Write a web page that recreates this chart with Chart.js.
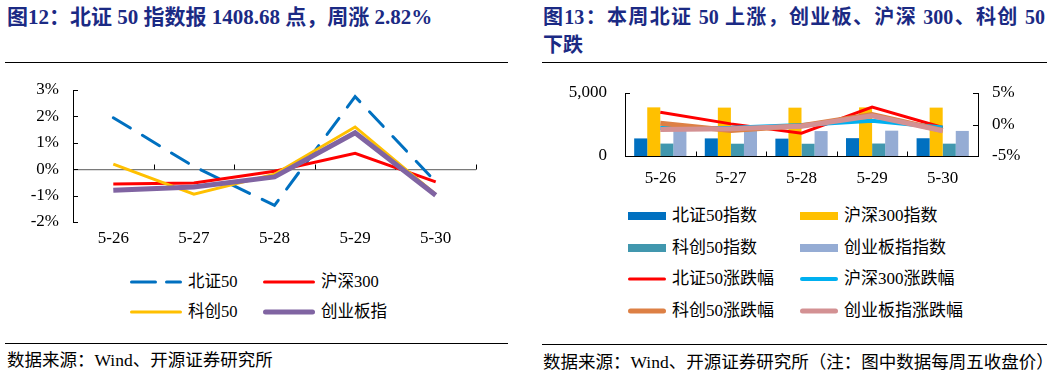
<!DOCTYPE html>
<html>
<head>
<meta charset="utf-8">
<script src="https://cdn.jsdelivr.net/npm/chart.js@4.4.0/dist/chart.umd.min.js"></script>
<style>
body{margin:0;width:1057px;height:374px;background:#fff;position:relative;overflow:hidden;font-family:"Liberation Serif","Noto Sans CJK SC",serif;color:#000;}
.title{position:absolute;font-weight:bold;color:#1b2a84;font-size:20px;line-height:28px;white-space:nowrap;}
.rule{position:absolute;height:0;border-top:1px solid #000;}
.src{position:absolute;font-size:17.5px;line-height:20px;white-space:nowrap;}
.box{position:absolute;}
.leg{position:absolute;display:flex;align-items:center;white-space:nowrap;line-height:20px;}
.leg svg{margin-right:6px;}
</style>
</head>
<body>
<div class="title" style="left:7px;top:3px;font-size:21px;">图12：北证 50 指数报 1408.68 点，周涨 2.82%</div>
<div class="rule" style="left:5px;top:62px;width:503px;"></div>
<canvas id="c1" class="box" style="left:0;top:77px;" width="520" height="173"></canvas>
<div id="leg1"></div>
<div class="rule" style="left:5px;top:343px;width:503px;"></div>
<div class="src" style="left:7px;top:350px;">数据来源：Wind、开源证券研究所</div>

<div class="title" style="left:543px;top:3px;width:502px;">
  <div style="text-align:justify;text-align-last:justify;">图13：本周北证 50 上涨，创业板、沪深 300、科创 50</div>
  <div>下跌</div>
</div>
<div class="rule" style="left:542px;top:62px;width:505px;"></div>
<canvas id="c2" class="box" style="left:530px;top:80px;" width="520" height="115"></canvas>
<div id="leg2"></div>
<div class="rule" style="left:542px;top:344px;width:505px;"></div>
<div class="src" style="left:543px;top:352px;">数据来源：Wind、开源证券研究所（注：图中数据每周五收盘价）</div>

<script>
// 数据
const days = ['5-26', '5-27', '5-28', '5-29', '5-30'];
// 涨跌幅 (%)
const bz50Chg = [1.95, 0.10, -1.37, 2.75, -0.48];
const hs300Chg = [-0.56, -0.52, -0.08, 0.60, -0.48];
const kc50Chg = [0.19, -0.95, -0.19, 1.60, -0.95];
const cybChg = [-0.80, -0.67, -0.29, 1.38, -0.99];
// 收盘点位
const bz50Idx = [1395, 1397, 1378, 1416, 1409];
const hs300Idx = [3860, 3840, 3836, 3858, 3840];
const kc50Idx = [985, 975, 972, 990, 980];
const cybIdx = [1995, 1985, 1978, 2010, 1990];
// 坐标轴范围
const pctRangeLeft = [-2, 3];
const idxRange = [0, 5000];
const pctRangeRight = [-5, 5];

Chart.defaults.font.family = '"Liberation Serif", "Noto Sans CJK SC", serif';
Chart.defaults.color = '#000';

// 刻度线（朝内）
const axisMarks = {
    id: 'axisMarks',
    beforeDatasetsDraw(chart, args, opts) {
        const ctx = chart.ctx;
        const area = chart.chartArea;
        const x = chart.scales.x;
        const yb = Math.round(chart.scales[opts.baseAxis].getPixelForValue(opts.baseValue)) + 0.5;
        ctx.save();
        ctx.strokeStyle = '#000';
        ctx.lineWidth = 1;
        ctx.beginPath();
        const n = x.ticks.length;
        for (let i = 0; i < n; i++) {
            let xp = i < n - 1 ? (x.getPixelForValue(i) + x.getPixelForValue(i + 1)) / 2 : area.right;
            xp = Math.round(xp) + 0.5;
            ctx.moveTo(xp, yb);
            ctx.lineTo(xp, yb - 5);
        }
        opts.yAxes.forEach(id => {
            const s = chart.scales[id];
            const x0 = s.position === 'left' ? area.left : area.right;
            const dir = s.position === 'left' ? 1 : -1;
            s.ticks.forEach(t => {
                const yp = Math.round(s.getPixelForValue(t.value)) + 0.5;
                ctx.moveTo(x0, yp);
                ctx.lineTo(x0 + dir * 5, yp);
            });
        });
        ctx.stroke();
        ctx.restore();
    }
};

// 固定轴宽，去掉标签留白
const fixV = w => s => { s.width = w; s.paddingTop = 0; s.paddingBottom = 0; };
const fixH = h => s => { s.height = h; s.paddingLeft = 0; s.paddingRight = 0; };

const leftChart = new Chart(document.getElementById('c1'), {
    type: 'line',
    data: {
        labels: days,
        datasets: [
            {label: '北证50', data: bz50Chg, borderColor: '#0070C0', borderWidth: 3, borderDash: [20, 14], borderCapStyle: 'round', order: 4},
            {label: '沪深300', data: hs300Chg, borderColor: '#FF0000', borderWidth: 3, order: 3},
            {label: '科创50', data: kc50Chg, borderColor: '#FFC000', borderWidth: 3, order: 2},
            {label: '创业板指', data: cybChg, borderColor: '#8064A2', borderWidth: 5, order: 1}
        ]
    },
    options: {
        responsive: false,
        animation: false,
        layout: {padding: {top: 13, right: 44, left: 0, bottom: 0}},
        elements: {point: {radius: 0}, line: {tension: 0}},
        plugins: {
            legend: {display: false},
            tooltip: {enabled: false},
            axisMarks: {baseAxis: 'y', baseValue: 0, yAxes: ['y']}
        },
        scales: {
            x: {
                offset: true,
                grid: {display: false, drawTicks: false},
                border: {display: false},
                ticks: {font: {size: 17}, padding: 6, maxRotation: 0},
                afterFit: fixH(28)
            },
            y: {
                min: pctRangeLeft[0], max: pctRangeLeft[1],
                ticks: {stepSize: 1, font: {size: 17}, padding: 14, callback: v => v + '%'},
                grid: {color: c => c.tick && c.tick.value === 0 ? '#7a7a7a' : 'rgba(0,0,0,0)', drawTicks: false, lineWidth: 1.3},
                border: {color: '#000'},
                afterFit: fixV(73)
            }
        }
    },
    plugins: [axisMarks]
});

const rightChart = new Chart(document.getElementById('c2'), {
    data: {
        labels: days,
        datasets: [
            {type: 'bar', label: '北证50指数', data: bz50Idx, backgroundColor: '#0070C0', yAxisID: 'y', order: 10},
            {type: 'bar', label: '沪深300指数', data: hs300Idx, backgroundColor: '#FFC000', yAxisID: 'y', order: 10},
            {type: 'bar', label: '科创50指数', data: kc50Idx, backgroundColor: '#4197AE', yAxisID: 'y', order: 10},
            {type: 'bar', label: '创业板指指数', data: cybIdx, backgroundColor: '#95ACD4', yAxisID: 'y', order: 10},
            {type: 'line', label: '北证50涨跌幅', data: bz50Chg, borderColor: '#FF0000', borderWidth: 3, yAxisID: 'y1', order: 4},
            {type: 'line', label: '沪深300涨跌幅', data: hs300Chg, borderColor: '#00B0F0', borderWidth: 4, yAxisID: 'y1', order: 3},
            {type: 'line', label: '科创50涨跌幅', data: kc50Chg, borderColor: '#DD8045', borderWidth: 5, yAxisID: 'y1', order: 2},
            {type: 'line', label: '创业板指涨跌幅', data: cybChg, borderColor: '#D39193', borderWidth: 5, yAxisID: 'y1', order: 1}
        ]
    },
    options: {
        responsive: false,
        animation: false,
        layout: {padding: {top: 13, right: 0, left: 0, bottom: 0}},
        elements: {point: {radius: 0}, line: {tension: 0}},
        datasets: {bar: {categoryPercentage: 0.74, barPercentage: 1.0}},
        plugins: {
            legend: {display: false},
            tooltip: {enabled: false},
            axisMarks: {baseAxis: 'y', baseValue: 0, yAxes: ['y', 'y1']}
        },
        scales: {
            x: {
                grid: {display: false, drawTicks: false},
                border: {color: '#000'},
                ticks: {font: {size: 17}, padding: 12, maxRotation: 0},
                afterFit: fixH(39)
            },
            y: {
                position: 'left',
                min: idxRange[0], max: idxRange[1],
                ticks: {stepSize: 5000, font: {size: 17}, padding: 18, callback: v => v.toLocaleString('en-US')},
                grid: {display: false, drawTicks: false},
                border: {color: '#000'},
                afterFit: fixV(95)
            },
            y1: {
                position: 'right',
                min: pctRangeRight[0], max: pctRangeRight[1],
                ticks: {stepSize: 5, font: {size: 17}, padding: 14, callback: v => v + '%'},
                grid: {display: false, drawTicks: false},
                border: {color: '#000'},
                afterFit: fixV(72)
            }
        }
    },
    plugins: [axisMarks]
});

// 图例（两列）
function buildLegend(holder, chart, cols, rows, fontSize) {
    const el = document.getElementById(holder);
    chart.data.datasets.forEach((ds, i) => {
        const r = Math.floor(i / 2), c = i % 2;
        const item = document.createElement('div');
        item.className = 'leg';
        item.style.left = cols[c].x + 'px';
        item.style.top = (rows[r] - 10) + 'px';
        item.style.fontSize = fontSize + 'px';
        const w = cols[c].w;
        let sw;
        if (ds.type === 'bar') {
            sw = `<svg width="${w}" height="10"><rect x="0" y="1" width="${w}" height="8" fill="${ds.backgroundColor}"/></svg>`;
        } else {
            const dash = ds.borderDash ? `stroke-dasharray="24 11"` : '';
            sw = `<svg width="${w}" height="10"><line x1="${ds.borderWidth/2}" y1="5" x2="${w - ds.borderWidth/2}" y2="5" stroke="${ds.borderColor}" stroke-width="${ds.borderWidth}" stroke-linecap="round" ${dash}/></svg>`;
        }
        item.innerHTML = sw + '<span>' + ds.label + '</span>';
        el.appendChild(item);
    });
}
buildLegend('leg1', leftChart, [{x: 130, w: 52}, {x: 263, w: 52}], [282, 312], 16.5);
buildLegend('leg2', rightChart, [{x: 628, w: 38}, {x: 800, w: 38}], [216, 248, 279, 311], 17);
</script>
</body>
</html>
